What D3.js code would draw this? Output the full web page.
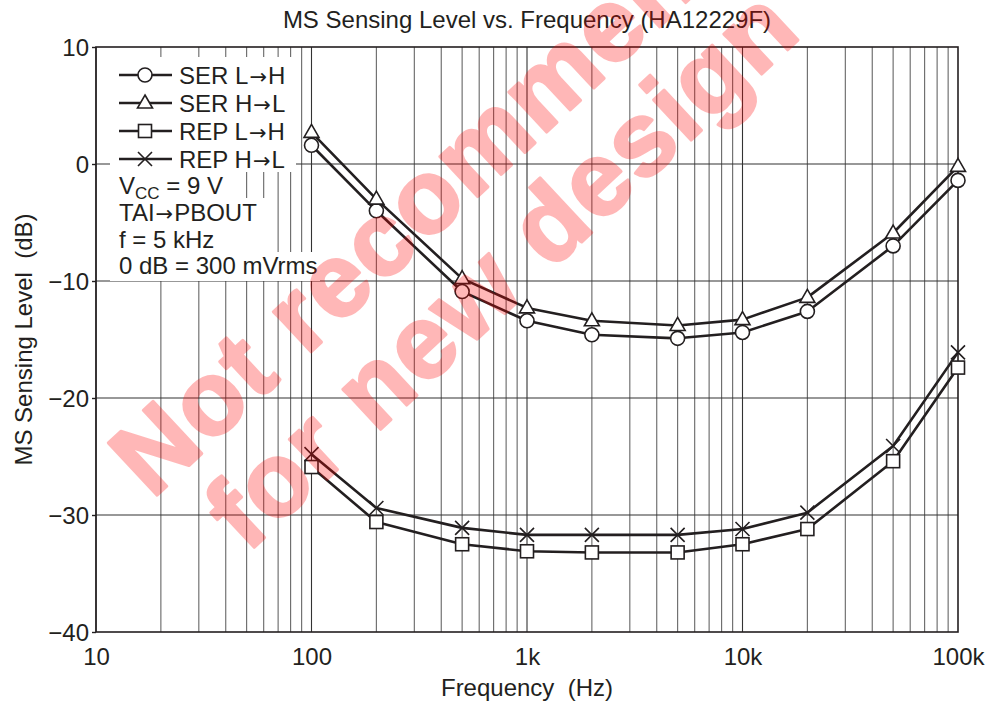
<!DOCTYPE html>
<html><head><meta charset="utf-8">
<script src="https://cdn.jsdelivr.net/npm/d3@7"></script>
<style>
body{margin:0;background:#fff;}
svg text{font-family:"Liberation Sans",Arial,Helvetica,sans-serif;fill:#231f20;white-space:pre;}
</style></head>
<body><svg id="c" width="989" height="704"></svg>
<script>
const freqs = [100,200,500,1000,2000,5000,10000,20000,50000,100000];
const serLH = [1.6,-4.0,-10.9,-13.4,-14.6,-14.9,-14.4,-12.6,-7.0,-1.4];
const serHL = [2.7,-3.0,-9.8,-12.3,-13.4,-13.8,-13.3,-11.4,-5.9,-0.2];
const repLH = [-25.9,-30.6,-32.5,-33.1,-33.2,-33.2,-32.5,-31.2,-25.4,-17.4];
const repHL = [-24.8,-29.4,-31.1,-31.7,-31.7,-31.7,-31.2,-29.8,-24.1,-16.1];
const seriesNames = [["SER L","H"],["SER H","L"],["REP L","H"],["REP H","L"]];
const xTickVals = [10,100,1000,10000,100000];
const xTickLabels = ["10","100","1k","10k","100k"];
const yTickVals = [10,0,-10,-20,-30,-40];
const yTickLabels = ["10","0","\u221210","\u221220","\u221230","\u221240"];
const notes = [["TAI","PBOUT"],["f = 5 kHz"],["0 dB = 300 mVrms"]];
const title = "MS Sensing Level vs. Frequency (HA12229F)";
const watermark = ["Not recommended","for new design"];

const svg = d3.select("#c");
const X0=96, X1=958, Y0=47, Y1=632;
const x = d3.scaleLog().domain([10,100000]).range([X0,X1]);
const y = d3.scaleLinear().domain([-40,10]).range([Y1,Y0]);
const ink = "#231f20";
const FS = 24;

// vertical grid
const vgrid=[];
for(let d=10; d<100000; d*=10){ for(let k=1;k<=9;k++) vgrid.push(d*k); }
svg.append("g").selectAll("line").data(vgrid).join("line")
  .attr("x1",d=>x(d)).attr("x2",d=>x(d)).attr("y1",Y0).attr("y2",Y1)
  .attr("stroke",d=>xTickVals.includes(d)?"#333":"#666").attr("stroke-width",1.1);
// horizontal grid
svg.append("g").selectAll("line").data([0,-10,-20,-30]).join("line")
  .attr("x1",X0).attr("x2",X1).attr("y1",d=>y(d)).attr("y2",d=>y(d))
  .attr("stroke","#333").attr("stroke-width",1.1);

// legend white background
const boxes=[[110,57,296,172],[110,172,236,198],[110,198,270,252],[110,252,320,281]];
svg.append("g").selectAll("rect").data(boxes).join("rect")
  .attr("x",d=>d[0]).attr("y",d=>d[1]).attr("width",d=>d[2]-d[0]).attr("height",d=>d[3]-d[1])
  .attr("fill","#fff");

// frame
svg.append("rect").attr("x",X0).attr("y",Y0).attr("width",X1-X0).attr("height",Y1-Y0)
  .attr("fill","none").attr("stroke",ink).attr("stroke-width",1.6);

// axes
const yAxis = d3.axisLeft(y).tickValues(yTickVals).tickFormat((d,i)=>yTickLabels[i]).tickSize(4).tickPadding(3);
const gy = svg.append("g").attr("transform",`translate(${X0},0)`).call(yAxis);
gy.select(".domain").remove();
gy.selectAll("line").attr("stroke",ink).attr("stroke-width",1.4);
gy.selectAll("text").attr("font-size",FS).attr("fill",ink).attr("dy","0.36em");
const xAxis = d3.axisBottom(x).tickValues(xTickVals).tickFormat((d,i)=>xTickLabels[i]).tickSize(0).tickPadding(16);
const gx = svg.append("g").attr("transform",`translate(0,${Y1})`).call(xAxis);
gx.select(".domain").remove();
gx.selectAll("text").attr("font-size",FS).attr("fill",ink);

// titles
svg.append("text").attr("x",(X0+X1)/2).attr("y",28).attr("text-anchor","middle").attr("font-size",FS).text(title);
svg.append("text").attr("x",(X0+X1)/2).attr("y",696).attr("text-anchor","middle").attr("font-size",FS).text("Frequency  (Hz)");
svg.append("text").attr("transform",`translate(32,${(Y0+Y1)/2}) rotate(-90)`).attr("text-anchor","middle").attr("font-size",FS).text("MS Sensing Level  (dB)");

// series
const data=[serLH,serHL,repLH,repHL];
const shapes=["circle","triangle","square","cross"];
const line=d3.line().x((d,i)=>x(freqs[i])).y(d=>y(d));
const gl=svg.append("g");
data.forEach(s=>{
  gl.append("path").attr("d",line(s)).attr("fill","none").attr("stroke",ink).attr("stroke-width",2.6).attr("stroke-linejoin","round");
});
function marker(g,shape,cx,cy){
  if(shape==="circle") g.append("circle").attr("cx",cx).attr("cy",cy).attr("r",7).attr("fill","#fff").attr("stroke",ink).attr("stroke-width",1.6);
  else if(shape==="triangle") g.append("path").attr("d",`M${cx},${cy-8}L${cx+7.5},${cy+5}L${cx-7.5},${cy+5}Z`).attr("fill","#fff").attr("stroke",ink).attr("stroke-width",1.6);
  else if(shape==="square") g.append("rect").attr("x",cx-6.5).attr("y",cy-6.5).attr("width",13).attr("height",13).attr("fill","#fff").attr("stroke",ink).attr("stroke-width",1.6);
  else { g.append("path").attr("d",`M${cx-7},${cy-7}L${cx+7},${cy+7}M${cx+7},${cy-7}L${cx-7},${cy+7}`).attr("stroke",ink).attr("stroke-width",1.6); }
}
const gm=svg.append("g");
data.forEach((s,k)=>{ s.forEach((v,i)=>marker(gm,shapes[k],x(freqs[i]),y(v))); });

// text with arrow
function arrowText(t,parts){
  parts.forEach((p,i)=>{
    if(i>0) t.append("tspan").attr("font-family","DejaVu Sans").attr("font-size",21).attr("dx",1).text("\u2192");
    t.append("tspan").attr("dx",i>0?1:0).text(p);
  });
}
// legend
const lg=svg.append("g");
seriesNames.forEach((n,k)=>{
  const cy=75+k*28;
  lg.append("line").attr("x1",119).attr("x2",172).attr("y1",cy).attr("y2",cy).attr("stroke",ink).attr("stroke-width",2.6);
  marker(lg,shapes[k],145,cy);
  arrowText(lg.append("text").attr("x",179).attr("y",cy+8.5).attr("font-size",FS), n);
});
const vt=lg.append("text").attr("x",119).attr("y",194).attr("font-size",FS);
vt.append("tspan").text("V");
vt.append("tspan").attr("font-size",17).attr("dy",5).text("CC");
vt.append("tspan").attr("dy",-5).text(" = 9 V");
notes.forEach((t,i)=>arrowText(lg.append("text").attr("x",119).attr("y",221+i*26.7).attr("font-size",FS), t));

// watermark
const wm=svg.append("g").attr("opacity",0.28);
const wmPos=[[152,500],[247,554]];
watermark.forEach((t,i)=>{
  wm.append("text").attr("transform",`translate(${wmPos[i][0]},${wmPos[i][1]}) rotate(-43)`)
    .attr("font-size",104).attr("font-weight","bold").attr("letter-spacing",2)
    .style("fill","#ff0000").style("stroke","#ff0000").style("stroke-width",3).style("stroke-linejoin","round")
    .text(t);
});
</script></body></html>
